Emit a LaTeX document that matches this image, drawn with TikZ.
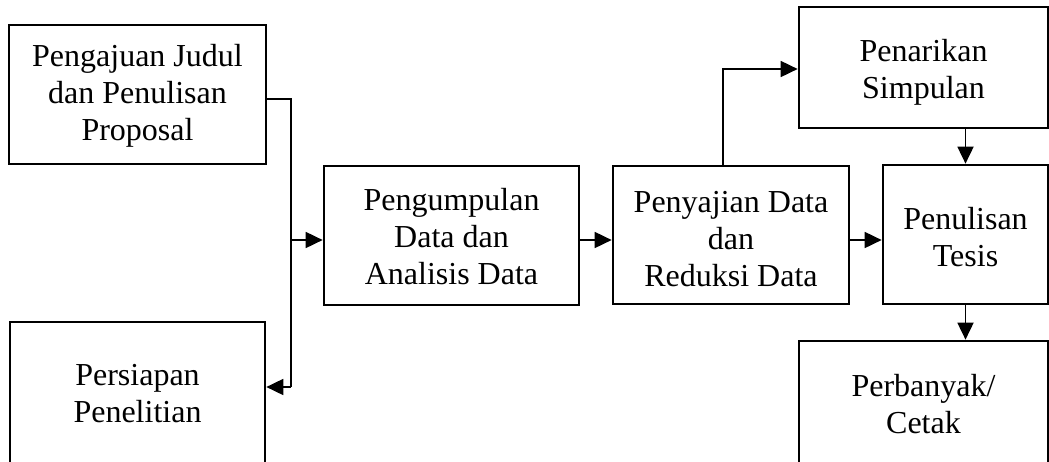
\documentclass[tikz,border=0pt]{standalone}
\usepackage{fontspec}
\setmainfont{Liberation Serif}
\usetikzlibrary{arrows.meta}
\begin{document}
\begin{tikzpicture}[x=1pt,y=-1pt,
  box/.style={draw,line width=2.7pt,inner sep=0pt},
  txt/.style={align=center,inner sep=0pt,font=\fontsize{32}{37}\selectfont},
  conn/.style={line width=1.8pt},
  arr/.style={line width=1.8pt,-{Triangle[length=17pt,width=16pt]}}]
\useasboundingbox (0,0) rectangle (1049,461);
\clip (0,0) rectangle (1049,461);
% boxes
\node[box,minimum width=257pt,minimum height=139pt] (b1) at (137.5,94.5) {};
\node[box,minimum width=255pt,minimum height=160pt] (b5) at (137.5,402) {};
\node[box,minimum width=255pt,minimum height=139pt] (b2) at (451.5,235.5) {};
\node[box,minimum width=236pt,minimum height=138pt] (b3) at (731,235) {};
\node[box,minimum width=249pt,minimum height=121pt] (b4) at (923.5,67.5) {};
\node[box,minimum width=165pt,minimum height=139pt] (b6) at (965.5,234.5) {};
\node[box,minimum width=249pt,minimum height=140pt] (b7) at (923.5,411) {};
% texts
\node[txt] (t1) at (137.5,96) {Pengajuan Judul\\dan Penulisan\\Proposal};
\node[txt] (t5) at (137.5,394) {Persiapan\\Penelitian};
\node[txt] (t2) at (451.5,237) {Pengumpulan\\Data dan\\Analisis Data};
\node[txt] (t3) at (731,239) {Penyajian Data\\dan\\Reduksi Data};
\node[txt] (t4) at (923.5,72) {Penarikan\\Simpulan};
\node[txt] (t6) at (965.5,237.5) {Penulisan\\Tesis};
\node[txt] (t7) at (923.5,404.5) {Perbanyak/\\Cetak};
% connectors
\coordinate (j1) at (291,99);
\coordinate (j2) at (291,387);
\coordinate (j3) at (291,240);
\coordinate (k) at (723,69);
\draw[conn] (b1.east |- j1) -- (j1) -- (j2);
\draw[arr] (j2) -- (j2 -| b5.east);
\draw[arr] (j3) -- (j3 -| b2.west);
\draw[arr] (b2.east |- j3) -- (b3.west |- j3);
\draw[arr] (k |- b3.north) -- (k) -- (k -| b4.west);
\draw[arr] (b6.north |- b4.south) -- (b6.north);
\draw[arr] (b3.east |- j3) -- (b6.west |- j3);
\draw[arr] (b6.south) -- (b6.south |- b7.north);
\end{tikzpicture}
\end{document}
